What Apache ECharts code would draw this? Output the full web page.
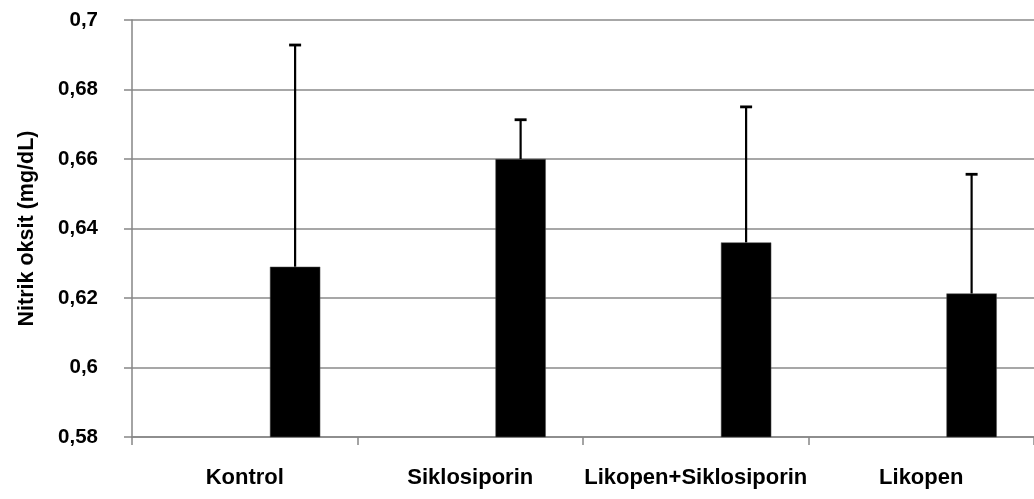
<!DOCTYPE html>
<html>
<head>
<meta charset="utf-8">
<script src="https://cdn.jsdelivr.net/npm/echarts@6/dist/echarts.min.js"></script>
<style>
html,body{margin:0;padding:0;background:#fff;}
#chart{width:1034px;height:499px;}
</style>
</head>
<body>
<div id="chart"></div>
<script>
// ---- data ----
const categories = ['Kontrol', 'Siklosiporin', 'Likopen+Siklosiporin', 'Likopen'];
const means = [0.629, 0.660, 0.636, 0.6213];
const errors = [0.0638, 0.0113, 0.039, 0.0343];
const yMin = 0.58, yMax = 0.70, yStep = 0.02;
const yAxisTitle = 'Nitrik oksit (mg/dL)';

const chart = echarts.init(document.getElementById('chart'), null, {renderer: 'canvas'});
const FONT = '"Liberation Sans", Arial, sans-serif';
const GAP = 0.33;             // barCategoryGap fraction
const BAR_FRAC = (1 - GAP) / 3; // each of three slots

const errData = categories.map((c, i) => [i, means[i], means[i] + errors[i]]);

const option = {
  animation: false,
  backgroundColor: '#ffffff',
  grid: {left: 132, top: 20, width: 907, height: 417, containLabel: false},
  xAxis: {
    type: 'category',
    data: categories,
    boundaryGap: true,
    axisLine: {show: true, lineStyle: {color: '#868686', width: 1.5}},
    axisTick: {show: true, length: 8, alignWithLabel: false, lineStyle: {color: '#868686', width: 1.5}},
    axisLabel: {color: '#000', fontFamily: FONT, fontWeight: 'bold', fontSize: 22, margin: 30, interval: 0},
    splitLine: {show: false}
  },
  yAxis: {
    type: 'value',
    min: yMin, max: yMax, interval: yStep,
    name: yAxisTitle,
    nameLocation: 'middle',
    nameGap: 94,
    nameRotate: 90,
    nameTextStyle: {color: '#000', fontFamily: FONT, fontWeight: 'bold', fontSize: 21.5},
    axisLine: {show: true, lineStyle: {color: '#868686', width: 1.5}},
    axisTick: {show: true, length: 8, lineStyle: {color: '#868686', width: 1.5}},
    axisLabel: {
      color: '#000', fontFamily: FONT, fontWeight: 'bold', fontSize: 20.5, margin: 34,
      formatter: v => String(parseFloat(v.toFixed(2))).replace('.', ',')
    },
    splitLine: {show: true, lineStyle: {color: '#8a8a8a', width: 1.5}}
  },
  series: [
    {type: 'bar', data: categories.map(() => '-'), barGap: '0%', barCategoryGap: (GAP * 100) + '%', silent: true},
    {type: 'bar', data: categories.map(() => '-'), barGap: '0%', barCategoryGap: (GAP * 100) + '%', silent: true},
    {type: 'bar', data: means, barGap: '0%', barCategoryGap: (GAP * 100) + '%',
     itemStyle: {color: '#000000', borderColor: '#555', borderWidth: 0.5}},
    {
      type: 'custom',
      data: errData,
      z: 5,
      renderItem: function (params, api) {
        const idx = api.value(0);
        const base = api.coord([idx, api.value(1)]);
        const top = api.coord([idx, api.value(2)]);
        const band = api.size([1, 0])[0];
        const x = base[0] + band * BAR_FRAC;
        const cap = 6;
        const st = {stroke: '#000', lineWidth: 2.2};
        return {
          type: 'group',
          children: [
            {type: 'line', shape: {x1: x, y1: base[1], x2: x, y2: top[1]}, style: st},
            {type: 'line', shape: {x1: x - cap, y1: top[1], x2: x + cap, y2: top[1]}, style: {stroke: '#000', lineWidth: 2.8}}
          ]
        };
      }
    }
  ]
};
chart.setOption(option);
</script>
</body>
</html>
